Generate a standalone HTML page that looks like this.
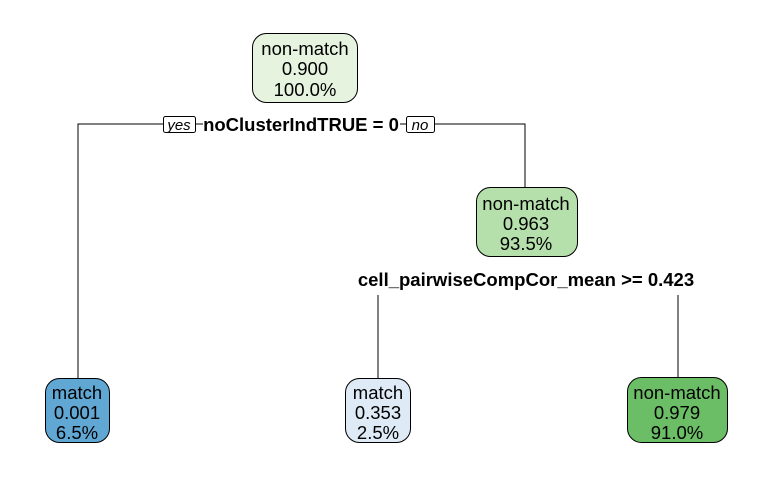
<!DOCTYPE html>
<html><head><style>
body{margin:0;background:#fff;}
svg text{font-family:"Liberation Sans",Arial,sans-serif;}
</style></head><body>
<svg width="770" height="475" xmlns="http://www.w3.org/2000/svg">
<g stroke="#000" stroke-width="1" fill="none">
<path d="M78 378 V124 H163 M196 124 H203 M400 124 H406 M434 124 H525 V187"/>
<path d="M378 378 V295 M678 377 V295"/>
</g>
<g stroke="#000" stroke-width="1">
<rect x="252.5" y="33.5" width="105" height="69" rx="14" fill="#e6f4df"/>
<rect x="476.5" y="187.5" width="101" height="69" rx="14" fill="#b5e0ac"/>
<rect x="45.5" y="378.5" width="64" height="64" rx="14" fill="#61a7d4"/>
<rect x="345.5" y="378.5" width="65" height="64" rx="14" fill="#deebf7"/>
<rect x="627.5" y="377.5" width="100" height="65" rx="14" fill="#6bbd66"/>
<rect x="163.5" y="116.5" width="32" height="16" rx="2" fill="#fff"/>
<rect x="406.5" y="116.5" width="28" height="16" rx="2" fill="#fff"/>
</g>
<g font-size="18.5" text-anchor="middle" fill="#000">
<text x="305" y="55">non-match</text><text x="305" y="75">0.900</text><text x="305" y="96">100.0%</text>
<text x="526" y="210">non-match</text><text x="526" y="230">0.963</text><text x="526" y="250">93.5%</text>
<text x="77" y="399">match</text><text x="77" y="419">0.001</text><text x="77" y="439">6.5%</text>
<text x="378" y="399">match</text><text x="378" y="419">0.353</text><text x="378" y="439">2.5%</text>
<text x="677" y="399">non-match</text><text x="677" y="419">0.979</text><text x="677" y="439">91.0%</text>
</g>
<g font-size="15" font-style="italic" text-anchor="middle">
<text x="179" y="130">yes</text><text x="420" y="130">no</text>
</g>
<g font-size="18.5" font-weight="bold" text-anchor="middle">
<text x="301" y="131">noClusterIndTRUE = 0</text>
<text x="526" y="286">cell_pairwiseCompCor_mean &gt;= 0.423</text>
</g>
</svg>
</body></html>
